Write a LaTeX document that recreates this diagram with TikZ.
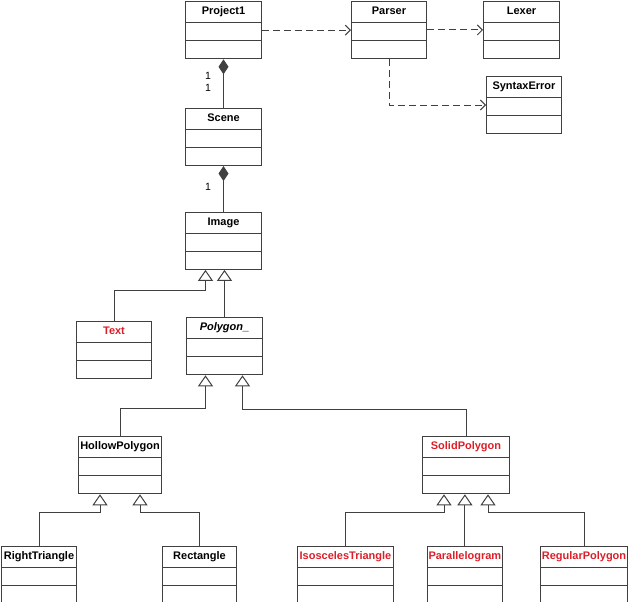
\documentclass[tikz,border=0pt]{standalone}
\usepackage{fontspec}
\setmainfont{Liberation Sans}
\usepackage{tikz}
\usetikzlibrary{shapes.multipart,arrows.meta,positioning}
\definecolor{umlred}{RGB}{220,30,40}
\tikzset{
  classbox/.style={draw=black!75, line width=1pt, rectangle split, rectangle split parts=3,
    rectangle split empty part height=7pt, rectangle split empty part depth=0pt,
    inner xsep=1pt, inner ysep=5pt, anchor=north west, minimum width=#1,
    font=\fontsize{11}{13}\selectfont\bfseries, execute at begin node=\vphantom{Ag}},
  classbox/.default=76pt,
  redbox/.style={classbox=#1, text=umlred},
  redbox/.default=76pt,
  extends/.style={draw=black!75, line width=1pt, -{Triangle[open,length=11pt,width=15pt]}},
  uses/.style={draw=black!75, line width=1pt, dash pattern=on 7pt off 4pt, -{Straight Barb[length=5pt,width=10pt]}},
  owns/.style={draw=black!75, line width=1pt, -{Diamond[length=15pt,width=10pt]}},
  mult/.style={font=\fontsize{10.5}{11.5}\selectfont, align=center, inner sep=0pt, anchor=east, xshift=-12pt}
}

\begin{document}
\begin{tikzpicture}[x=1pt,y=-1pt]
              \useasboundingbox (0,0) rectangle (629,602);
              % classes
              \node[classbox] (project1) at (185,1) {Project1};
              \node[classbox=75pt] (parser) at (351,1) {Parser};
              \node[classbox] (lexer) at (483,1) {Lexer};
              \node[classbox=75pt] (syntaxerror) at (486,76) {SyntaxError};
              \node[classbox] (scene) at (185,108) {Scene};
              \node[classbox] (image) at (185,212) {Image};
              \node[redbox=75pt] (text) at (76,321) {Text};
              \node[classbox] (polygon) at (186,317) {\itshape Polygon\_};
              \node[classbox=83pt] (hollow) at (78,436) {HollowPolygon};
              \node[redbox=87pt] (solid) at (422,436) {SolidPolygon};
              \node[classbox=75pt] (righttri) at (1,546) {RightTriangle};
              \node[classbox=74pt] (rect) at (162,546) {Rectangle};
              \node[redbox=96pt] (isosceles) at (297,546) {IsoscelesTriangle};
              \node[redbox=74pt] (parallelogram) at (427,546) {Parallelogram};
              \node[redbox=87pt] (regular) at (540,546) {RegularPolygon};
              % dependencies
              \draw[uses] (project1.east) -- (project1.east -| parser.west);
              \draw[uses] (parser.east) -- (parser.east -| lexer.west);
              \draw[uses] (parser.south) |- (syntaxerror.west);
              % composition
              \draw[owns] (scene.north) -- (project1.south) node[mult, pos=0.54] {1\\1};
              \draw[owns] (image.north) -- (scene.south) node[mult, pos=0.55] {1};
              % generalization
              \draw[extends] (polygon.north) -- (polygon.north |- image.south);
              \draw[extends] (text.north) |- ([xshift=-18pt,yshift=-21pt]image.south) -- ([xshift=-18pt]image.south);
              \draw[extends] (hollow.north) |- ([xshift=-19pt,yshift=-33pt]polygon.south) -- ([xshift=-19pt]polygon.south);
              \draw[extends] (solid.north) |- ([xshift=18pt,yshift=-34pt]polygon.south) -- ([xshift=18pt]polygon.south);
              \draw[extends] (righttri.north) |- ([xshift=-20pt,yshift=-18pt]hollow.south) -- ([xshift=-20pt]hollow.south);
              \draw[extends] (rect.north) |- ([xshift=20pt,yshift=-18pt]hollow.south) -- ([xshift=20pt]hollow.south);
              \draw[extends] (isosceles.north) |- ([xshift=-22pt,yshift=-18pt]solid.south) -- ([xshift=-22pt]solid.south);
              \draw[extends] (parallelogram.north) -- (parallelogram.north |- solid.south);
              \draw[extends] (regular.north) |- ([xshift=22pt,yshift=-18pt]solid.south) -- ([xshift=22pt]solid.south);
            \end{tikzpicture}
\end{document}
